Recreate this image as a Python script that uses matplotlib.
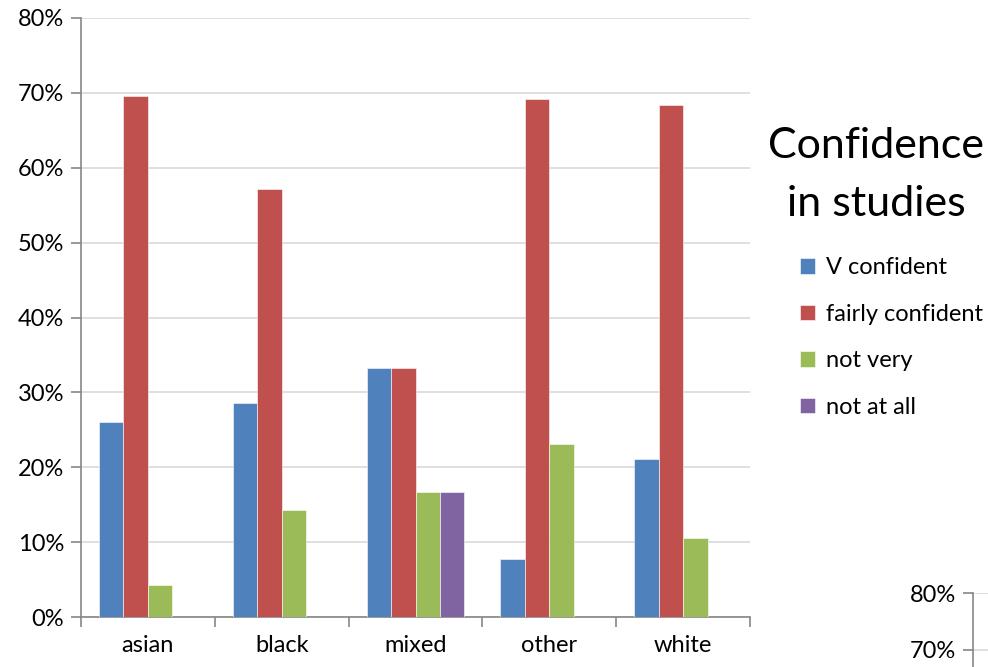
import matplotlib.pyplot as plt
import numpy as np
from matplotlib.ticker import PercentFormatter

plt.rcParams['font.family'] = ['Lato', 'DejaVu Sans']

groups = ['asian', 'black', 'mixed', 'other', 'white']
series = ['V confident', 'fairly confident', 'not very', 'not at all']
v_conf = [26.1, 28.6, 33.3, 7.7, 21.1]
fairly = [69.6, 57.1, 33.3, 69.2, 68.4]
not_very = [4.3, 14.3, 16.7, 23.1, 10.5]
not_at_all = [0, 0, 16.7, 0, 0]
colors = ['#4F81BD', '#C0504D', '#9BBB59', '#8064A2']
# ticks of the second chart that shows partly at the bottom right
edge_ticks = [70, 80]

fig = plt.figure(figsize=(9.88, 6.67), dpi=100)
ax = fig.add_axes([81 / 988, 1 - 617 / 667, (750 - 81) / 988, (617 - 18) / 667])

x = np.arange(len(groups))
w = 0.183
for i, (vals, name) in enumerate(zip([v_conf, fairly, not_very, not_at_all], series)):
    ax.bar(x + (i - 1.5) * w, vals, w, color=colors[i], label=name,
           edgecolor='white', linewidth=0.4, zorder=3)

ax.set_xlim(-0.5, len(groups) - 0.5)
ax.set_ylim(0, 80)
ax.set_yticks(np.arange(0, 81, 10))
ax.yaxis.set_major_formatter(PercentFormatter(decimals=0))
ax.grid(axis='y', color='#d9d9d9', linewidth=1.2, zorder=0)
ax.set_xticks(x)
ax.set_xticklabels(groups)
ax.set_xticks(np.arange(-0.5, len(groups), 1), minor=True)
ax.tick_params(axis='x', which='major', length=0, pad=13, labelsize=17)
ax.tick_params(axis='x', which='minor', length=7, color='#868686', width=1.2)
ax.tick_params(axis='y', length=7, color='#868686', width=1.2, labelsize=17, pad=5)
for s in ['top', 'right']:
    ax.spines[s].set_visible(False)
for s in ['left', 'bottom']:
    ax.spines[s].set_color('#868686')
    ax.spines[s].set_linewidth(1.2)

fig.text(876 / 988, 1 - 175 / 667, 'Confidence\nin studies', ha='center', va='center',
         fontsize=31, linespacing=1.62)

handles, labels = ax.get_legend_handles_labels()
leg = fig.legend(handles, labels, loc='upper left', bbox_to_anchor=(779 / 988, 1 - 236 / 667),
                 frameon=False, fontsize=17, handlelength=0.62, handleheight=0.62,
                 handletextpad=0.45, labelspacing=1.08)

# partial second chart visible at bottom right
ax2 = fig.add_axes([973 / 988, (667 - 593) / 667 - 456 / 667, 0.1, 456 / 667])
ax2.set_ylim(0, 80)
ax2.set_yticks(edge_ticks)
ax2.yaxis.set_major_formatter(PercentFormatter(decimals=0))
ax2.grid(axis='y', color='#d9d9d9', linewidth=1.2)
ax2.set_xticks([])
ax2.tick_params(axis='y', length=7, color='#868686', width=1.2, labelsize=17, pad=5)
for s in ['top', 'right', 'bottom']:
    ax2.spines[s].set_visible(False)
ax2.spines['left'].set_color('#868686')
ax2.spines['left'].set_linewidth(1.2)

fig.savefig('out.png', dpi=100)
